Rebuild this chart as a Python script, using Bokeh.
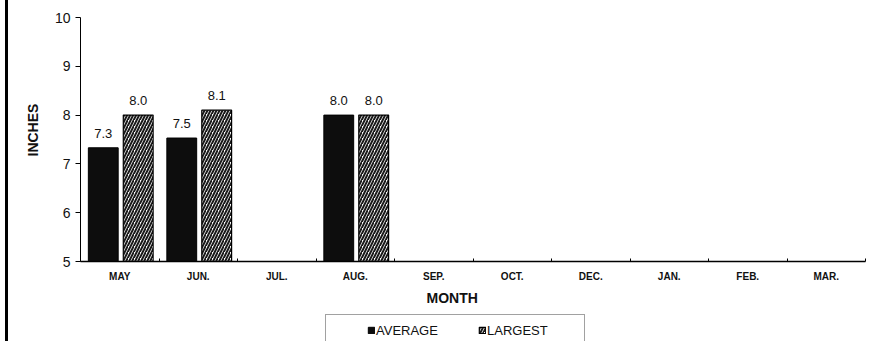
import numpy as np
from bokeh.plotting import figure
from bokeh.layouts import column
from bokeh.models import ColumnDataSource, FixedTicker, Legend, LegendItem, LabelSet, Range1d, Title
from bokeh.core.properties import value
from bokeh.transform import dodge
from bokeh.embed import file_html
from bokeh.resources import INLINE

months = ["MAY", "JUN.", "JUL.", "AUG.", "SEP.", "OCT.", "DEC.", "JAN.", "FEB.", "MAR."]
average = [7.33, 7.53, None, 8.0, None, None, None, None, None, None]
largest = [8.0, 8.1, None, 8.0, None, None, None, None, None, None]
y_ticks = [5, 6, 7, 8, 9, 10]

FONT = "Liberation Sans"

x = [i + 0.5 for i in range(len(months))]
avg_arr = np.array([np.nan if v is None else v for v in average], dtype=float)
lg_arr = np.array([np.nan if v is None else v for v in largest], dtype=float)

src = ColumnDataSource(dict(x=x, avg=avg_arr, lg=lg_arr))

AVG_STYLE = dict(fill_color="#0d0d0d", line_color="black", line_width=1)
LG_STYLE = dict(fill_color="white", line_color="black", line_width=1.2,
                hatch_pattern="/", hatch_color="#1a1a1a", hatch_scale=6, hatch_weight=2)

p = figure(width=863, height=314, output_backend="svg", toolbar_location=None,
           x_range=Range1d(0, len(months)), y_range=Range1d(5, 10),
           min_border_left=72, min_border_right=6, min_border_top=17, min_border_bottom=53)
p.outline_line_color = None
p.xgrid.visible = False
p.ygrid.visible = False

OFF_A, OFF_L, W = -0.21, 0.235, 0.38

p.vbar(x=dodge("x", OFF_A, range=p.x_range), top="avg", bottom=5, width=W,
       source=src, **AVG_STYLE)
p.vbar(x=dodge("x", OFF_L, range=p.x_range), top="lg", bottom=5, width=W,
       source=src, **LG_STYLE)

mask_a = ~np.isnan(avg_arr)
mask_l = ~np.isnan(lg_arr)
src_la = ColumnDataSource(dict(x=[xx + OFF_A for xx, m in zip(x, mask_a) if m],
                               y=list(avg_arr[mask_a]),
                               t=[f"{v:.1f}" for v in avg_arr[mask_a]]))
src_ll = ColumnDataSource(dict(x=[xx + OFF_L for xx, m in zip(x, mask_l) if m],
                               y=list(lg_arr[mask_l]),
                               t=[f"{v:.1f}" for v in lg_arr[mask_l]]))
for s in (src_la, src_ll):
    p.add_layout(LabelSet(x="x", y="y", text="t", source=s, text_align="center",
                          text_baseline="bottom", y_offset=10, text_font=value(FONT),
                          text_font_size="13px", text_color="#111111"))

# x axis
p.xaxis.ticker = FixedTicker(ticks=x, minor_ticks=list(range(0, len(months) + 1)))
p.xaxis.major_label_overrides = {xx: m for xx, m in zip(x, months)}
p.xaxis.major_tick_line_color = None
p.xaxis.minor_tick_in = 3
p.xaxis.minor_tick_out = 0
p.xaxis.minor_tick_line_color = "black"
p.xaxis.axis_line_color = "black"
p.xaxis.axis_line_width = 1.5
p.xaxis.major_label_text_font = FONT
p.xaxis.major_label_text_font_style = "bold"
p.xaxis.major_label_text_font_size = "10px"
p.xaxis.major_label_text_color = "#111111"
p.xaxis.major_label_standoff = 3

# y axis
p.yaxis.ticker = FixedTicker(ticks=y_ticks, minor_ticks=[])
p.yaxis.major_tick_in = 0
p.yaxis.major_tick_out = 5
p.yaxis.major_tick_line_color = "black"
p.yaxis.axis_line_color = "black"
p.yaxis.major_label_text_font = FONT
p.yaxis.major_label_text_font_size = "14px"
p.yaxis.major_label_text_color = "#111111"
p.yaxis.major_label_standoff = 5

# axis titles (offset like the original, not centred on the frame)
p.add_layout(Title(text="INCHES", align="left", offset=105, standoff=22,
                   text_font=FONT, text_font_style="bold", text_font_size="14px",
                   text_color="#111111"), "left")
p.add_layout(Title(text="MONTH", align="left", offset=346, standoff=6,
                   text_font=FONT, text_font_style="bold", text_font_size="14px",
                   text_color="#111111"), "below")

# legend strip (own small figure below the chart)
pl = figure(width=863, height=27, output_backend="svg", toolbar_location=None,
            x_range=Range1d(0, len(months)), y_range=Range1d(100, 101),
            x_axis_type=None, y_axis_type=None,
            min_border_left=0, min_border_right=0, min_border_top=0, min_border_bottom=0)
pl.outline_line_color = None
pl.xgrid.visible = False
pl.ygrid.visible = False
la = pl.vbar(x="x", top="avg", bottom=5, width=W, source=src, **AVG_STYLE)
ll = pl.vbar(x="x", top="lg", bottom=5, width=W, source=src, **LG_STYLE)

legend = Legend(items=[LegendItem(label="AVERAGE", renderers=[la]),
                       LegendItem(label="LARGEST", renderers=[ll])],
                orientation="horizontal", location=(245, -5),
                title=" ", title_location="left", title_standoff=21,
                title_text_font_size="13px",
                padding=5, spacing=10, label_width=92, label_height=20,
                glyph_width=8, glyph_height=8, label_standoff=1,
                label_text_font=FONT, label_text_font_size="13px",
                label_text_color="#111111", margin=0,
                border_line_color="#444444", border_line_width=1,
                background_fill_alpha=1.0)
pl.add_layout(legend, "center")

layout = column(p, pl, spacing=0,
                styles={"border-left": "3px solid black", "margin-left": "5px"})

open("out.html", "w").write(file_html(layout, INLINE))
